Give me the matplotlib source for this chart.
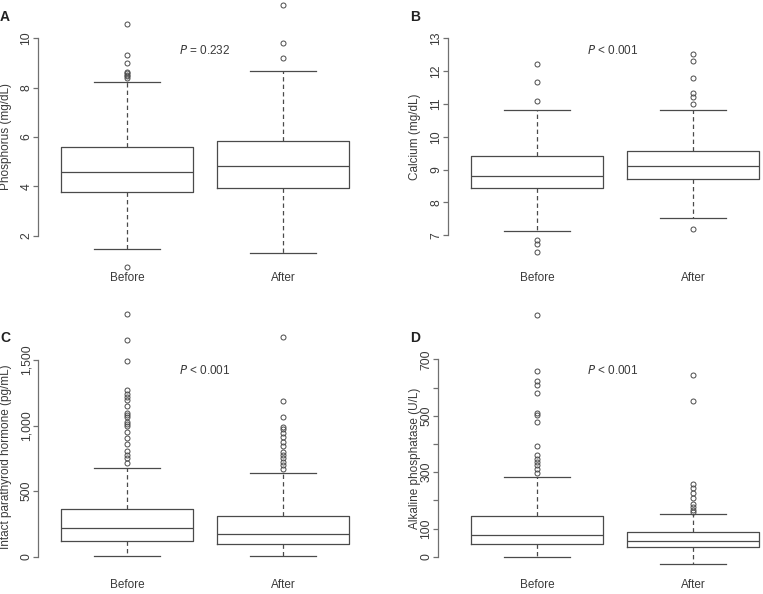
import matplotlib
matplotlib.use("Agg")
import matplotlib.pyplot as plt

plt.rcParams['font.family'] = ['Liberation Sans', 'DejaVu Sans']

W, H = 763, 594
DPI = 100

groups = ["Before", "After"]

# Panel A: Phosphorus (mg/dL)
phos_q1 = [3.77, 3.92]
phos_med = [4.59, 4.82]
phos_q3 = [5.59, 5.84]
phos_lo = [1.47, 1.31]
phos_hi = [8.24, 8.67]
phos_fliers = [[10.59, 9.34, 9.01, 8.65, 8.58, 8.52, 8.46, 8.40, 0.74],
               [11.34, 9.80, 9.19]]
phos_ticks = [2, 4, 6, 8, 10]
phos_ticklabels = ["2", "4", "6", "8", "10"]

# Panel B: Calcium (mg/dL)
ca_q1 = [8.45, 8.70]
ca_med = [8.80, 9.11]
ca_q3 = [9.42, 9.57]
ca_lo = [7.12, 7.52]
ca_hi = [10.82, 10.82]
ca_fliers = [[12.23, 11.66, 11.10, 6.86, 6.73, 6.50],
             [12.51, 12.31, 11.79, 11.34, 11.22, 11.00, 7.20]]
ca_ticks = [7, 8, 9, 10, 11, 12, 13]
ca_ticklabels = ["7", "8", "9", "10", "11", "12", "13"]

# Panel C: Intact parathyroid hormone (pg/mL)
pth_q1 = [122, 94]
pth_med = [221, 173]
pth_q3 = [361, 310]
pth_lo = [5, 3]
pth_hi = [679, 638]
pth_fliers = [[1851, 1653, 1490, 1271, 1240, 1220, 1195, 1149, 1098, 1080, 1068,
               1030, 1010, 997, 953, 903, 857, 808, 775, 750, 717],
              [1673, 1185, 1065, 992, 971, 946, 915, 877, 846, 801, 775, 750,
               725, 699, 668]]
pth_ticks = [0, 500, 1000, 1500]
pth_ticklabels = ["0", "500", "1,000", "1,500"]

# Panel D: Alkaline phosphatase (U/L)
alp_q1 = [45, 35]
alp_med = [77, 56]
alp_q3 = [145, 86]
alp_lo = [0, -27]
alp_hi = [284, 151]
alp_fliers = [[857, 660, 624, 609, 579, 508, 503, 477, 393, 361, 345, 337, 325, 310, 296],
              [644, 552, 258, 242, 227, 207, 187, 175, 166, 160]]
alp_ticks = [0, 100, 200, 300, 400, 500, 600, 700]
alp_ticklabels = ["0", "100", "", "300", "", "500", "", "700"]

TEXT = "#3a3a3a"
LINE = "#4a4a4a"
AXC = "#707070"

fig = plt.figure(figsize=(W / DPI, H / DPI), dpi=DPI)


def fx(px):
    return px / W


def fy(py):
    return 1 - py / H


def panel(box, centers, tickpx, ticks, ticklabels, q1, med, q3, lo, hi, fliers,
          ylabel, ylab_xy, ptext, ppos, letter, letter_pos, xlab_y):
    left, top, right, bottom = box
    ax = fig.add_axes([fx(left), fy(bottom), (right - left) / W, (bottom - top) / H])
    c1, c2 = centers
    xs = 1.0 / (c2 - c1)
    ax.set_xlim(1 - (c1 - left) * xs, 2 + (right - c2) * xs)
    (ylo_px, vlo), (yhi_px, vhi) = tickpx
    ys = (vhi - vlo) / (ylo_px - yhi_px)
    ax.set_ylim(vlo - (bottom - ylo_px) * ys, vhi + (yhi_px - top) * ys)

    stats = []
    for i in range(2):
        stats.append(dict(med=med[i], q1=q1[i], q3=q3[i], whislo=lo[i],
                          whishi=hi[i], fliers=fliers[i], label=groups[i]))
    ax.bxp(stats, positions=[1, 2], widths=132 * xs, showfliers=True,
           boxprops=dict(color=LINE, linewidth=0.9),
           medianprops=dict(color=LINE, linewidth=0.9),
           whiskerprops=dict(color=LINE, linewidth=0.9, linestyle=(0, (3.5, 2.5))),
           capprops=dict(color=LINE, linewidth=0.9),
           capwidths=66 * xs,
           flierprops=dict(marker='o', markersize=3.6, markerfacecolor='none',
                           markeredgecolor=LINE, markeredgewidth=0.7),
           manage_ticks=False)
    for s in ['top', 'right', 'bottom']:
        ax.spines[s].set_visible(False)
    ax.spines['left'].set_color(AXC)
    ax.spines['left'].set_linewidth(0.9)
    ax.spines['left'].set_bounds(ticks[0], ticks[-1])
    ax.set_xticks([])
    ax.set_yticks(ticks)
    ax.set_yticklabels(ticklabels)
    ax.tick_params(axis='y', length=3.5, width=0.9, color=AXC, labelsize=8.8,
                   labelcolor=TEXT, pad=0.5, labelrotation=90)
    for t in ax.get_yticklabels():
        t.set_va('center')
    ax.patch.set_visible(False)

    fig.text(fx(ylab_xy[0]), fy(ylab_xy[1]), ylabel, rotation=90, ha='center',
             va='center', fontsize=8.5, color=TEXT)
    fig.text(fx(ppos[0]), fy(ppos[1]), ptext, ha='center', va='center',
             fontsize=8.5, color=TEXT)
    fig.text(fx(letter_pos[0]), fy(letter_pos[1]), letter, ha='left', va='center',
             fontsize=10, fontweight='bold', color='#222222')
    for c, g in zip(centers, groups):
        fig.text(fx(c), fy(xlab_y), g, ha='center', va='center', fontsize=8.5,
                 color=TEXT)
    return ax


panel((38, 0, 375, 275), (127, 283), ((235.7, 2), (38.3, 10)),
      phos_ticks, phos_ticklabels, phos_q1, phos_med, phos_q3, phos_lo, phos_hi,
      phos_fliers, "Phosphorus (mg/dL)", (6, 137), r"$\it{P}$ = 0.232", (205, 50),
      "A", (0, 17), 278)

panel((448, 0, 763, 275), (537, 693), ((235.3, 7), (38.3, 13)),
      ca_ticks, ca_ticklabels, ca_q1, ca_med, ca_q3, ca_lo, ca_hi,
      ca_fliers, "Calcium (mg/dL)", (415, 137), r"$\it{P}$ < 0.001", (613, 50),
      "B", (410, 17), 278)

panel((38, 300, 375, 575), (127, 283), ((556.7, 0), (360, 1500)),
      pth_ticks, pth_ticklabels, pth_q1, pth_med, pth_q3, pth_lo, pth_hi,
      pth_fliers, "Intact parathyroid hormone (pg/mL)", (6, 457), r"$\it{P}$ < 0.001",
      (205, 371), "C", (0, 338), 585)

panel((438, 300, 763, 575), (537, 693), ((556.7, 0), (359.3, 700)),
      alp_ticks, alp_ticklabels, alp_q1, alp_med, alp_q3, alp_lo, alp_hi,
      alp_fliers, "Alkaline phosphatase (U/L)", (415, 458), r"$\it{P}$ < 0.001",
      (613, 371), "D", (410, 338), 585)

fig.savefig("out.png", dpi=DPI)
